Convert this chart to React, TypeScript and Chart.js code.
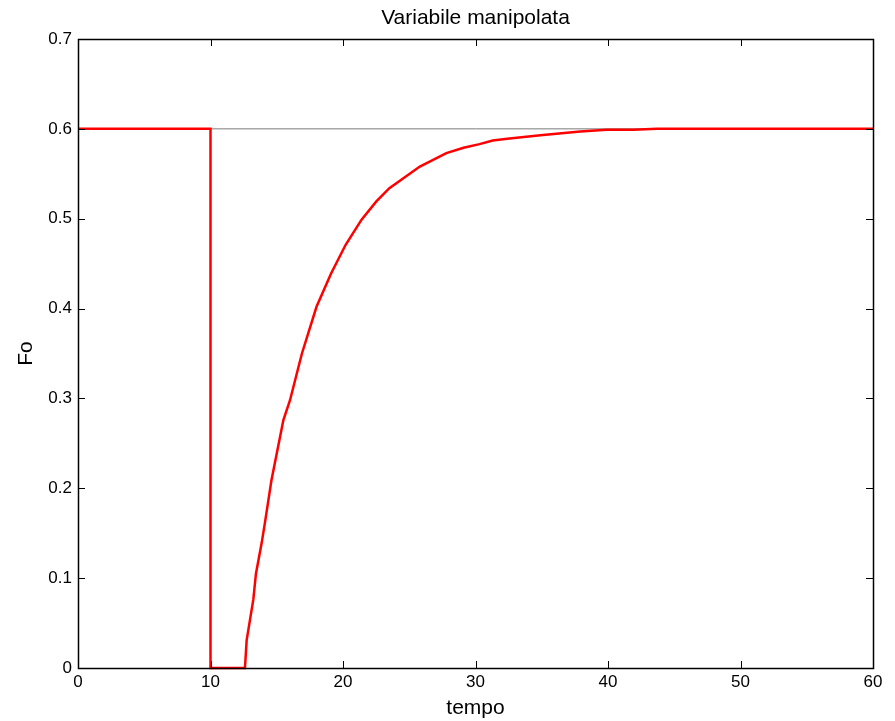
import React, { useEffect, useRef } from "react";
import { Chart, registerables } from "chart.js";

Chart.register(...registerables);

const tempo = [0, 10, 10, 12.6, 12.73, 13.23, 13.43, 13.86, 14.1, 14.6, 15.5, 16.0, 16.9, 18.0, 19.1, 20.2, 21.4, 22.5, 23.5, 25.8, 27.8, 29.1, 30.3, 31.3, 32.4, 34.9, 37.9, 39.9, 41.9, 43.7, 60];
const fo = [0.6, 0.6, 0, 0, 0.031, 0.076, 0.105, 0.139, 0.161, 0.209, 0.276, 0.298, 0.35, 0.402, 0.439, 0.471, 0.499, 0.519, 0.534, 0.558, 0.573, 0.579, 0.583, 0.587, 0.589, 0.593, 0.597, 0.599, 0.599, 0.6, 0.6];
const setpointX = [0, 60];
const setpointY = [0.6, 0.6];
const xTicks = [0, 10, 20, 30, 40, 50, 60];
const yTicks = [0, 0.1, 0.2, 0.3, 0.4, 0.5, 0.6, 0.7];

const FONT = "'Liberation Sans', Arial, sans-serif";

const boxPlugin = {
  id: "matlabBox",
  afterDraw(chart: any) {
    const { ctx, chartArea: a, scales } = chart;
    const len = 7;
    ctx.save();
    ctx.strokeStyle = "#000";
    ctx.lineWidth = 1;
    ctx.beginPath();
    xTicks.forEach((t) => {
      const px = Math.round(scales.x.getPixelForValue(t)) + 0.5;
      ctx.moveTo(px, a.bottom);
      ctx.lineTo(px, a.bottom - len);
      ctx.moveTo(px, a.top);
      ctx.lineTo(px, a.top + len);
    });
    yTicks.forEach((t) => {
      const py = Math.round(scales.y.getPixelForValue(t)) + 0.5;
      ctx.moveTo(a.left, py);
      ctx.lineTo(a.left + len, py);
      ctx.moveTo(a.right, py);
      ctx.lineTo(a.right - len, py);
    });
    ctx.stroke();
    ctx.lineWidth = 1.5;
    ctx.strokeRect(Math.round(a.left) + 0.5, Math.round(a.top) + 0.5, Math.round(a.right - a.left), Math.round(a.bottom - a.top));
    ctx.restore();
  },
};

export default function App() {
  const ref = useRef<HTMLCanvasElement | null>(null);
  useEffect(() => {
    if (!ref.current) return;
    const chart = new Chart(ref.current, {
      type: "line",
      data: {
        datasets: [
          {
            label: "Fo",
            data: tempo.map((x, i) => ({ x, y: fo[i] })),
            borderColor: "#ff0000",
            borderWidth: 2.5,
            pointRadius: 0,
            tension: 0,
            fill: false,
            clip: false as any,
          },
          {
            label: "setpoint",
            data: setpointX.map((x, i) => ({ x, y: setpointY[i] })),
            borderColor: "#7a7a7a",
            borderWidth: 1,
            pointRadius: 0,
            fill: false,
          },
        ],
      },
      options: {
        animation: false,
        responsive: false,
        maintainAspectRatio: false,
        layout: { padding: { left: 0, right: 22, top: 0, bottom: 0 } },
        plugins: {
          legend: { display: false },
          tooltip: { enabled: false },
          title: {
            display: true,
            fullSize: false,
            text: "Variabile manipolata",
            color: "#000",
            font: { family: FONT, size: 21, weight: "normal" },
            padding: { top: 5.7, bottom: 8.1 },
          },
        },
        scales: {
          x: {
            type: "linear",
            min: 0,
            max: 60,
            grid: { display: false, drawTicks: false },
            border: { display: false },
            ticks: {
              stepSize: 10,
              padding: 4,
              color: "#000",
              maxRotation: 0,
              font: { family: FONT, size: 17 },
              callback: (v: any) => String(v),
            },
            title: {
              display: true,
              text: "tempo",
              color: "#000",
              font: { family: FONT, size: 21 },
              padding: { top: 0.5, bottom: 0.5 },
            },
            afterFit: (s: any) => {
              s.height = 53;
            },
          },
          y: {
            type: "linear",
            min: 0,
            max: 0.7,
            grid: { display: false, drawTicks: false },
            border: { display: false },
            ticks: {
              stepSize: 0.1,
              padding: 6,
              color: "#000",
              font: { family: FONT, size: 17 },
              callback: (v: any) => (Math.abs(v) < 1e-9 ? "0" : Number(v).toFixed(1)),
            },
            title: {
              display: true,
              text: "Fo",
              color: "#000",
              font: { family: FONT, size: 21 },
              padding: { top: 14, bottom: 14 },
            },
            afterFit: (s: any) => {
              s.width = 78;
            },
          },
        },
      },
      plugins: [boxPlugin],
    });
    return () => chart.destroy();
  }, []);
  return (
    <div style={{ position: "fixed", left: 0, top: 0, width: 895, height: 721, background: "#fff" }}>
      <canvas ref={ref} width={895} height={721} style={{ width: 895, height: 721, display: "block" }} />
    </div>
  );
}
